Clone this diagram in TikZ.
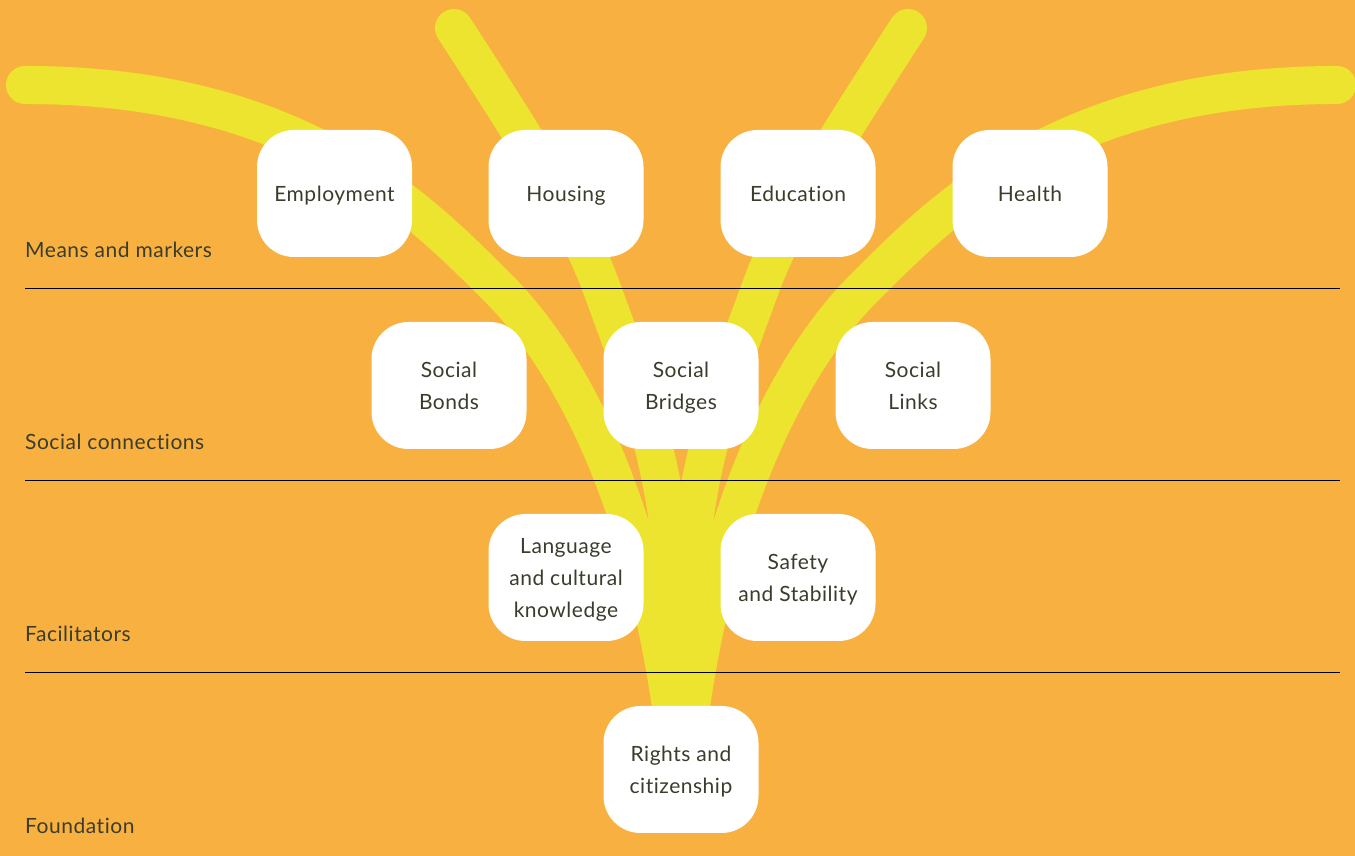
\documentclass[tikz,border=0pt]{standalone}
\usepackage{fontspec}
\setmainfont{Lato}[LetterSpace=2.5,Ligatures=NoCommon]
\pgfdeclarelayer{bglayer}
\pgfdeclarelayer{edgelayer}
\pgfdeclarelayer{nodelayer}
\pgfsetlayers{bglayer,edgelayer,nodelayer,main}
\definecolor{bgorange}{HTML}{F8B140}
\definecolor{stemyellow}{HTML}{ECE42E}
\definecolor{inkdark}{HTML}{3A3D2B}
\tikzset{font=\fontsize{21}{32}\selectfont}
\tikzstyle{none}=[inner sep=0pt]
\tikzstyle{box}=[rectangle,rounded corners=37pt,fill=white,minimum width=155pt,minimum height=127pt,inner sep=0pt,align=center,text=inkdark,text depth=0pt]
\tikzstyle{rowlabel}=[anchor=base west,inner sep=0pt,text=inkdark]
\tikzstyle{branch}=[draw=stemyellow,line width=38pt,line cap=round]
\tikzstyle{rule}=[draw=black,line width=1pt]

\begin{document}
\begin{tikzpicture}[x=1pt,y=1pt]
	\useasboundingbox (0,0) rectangle (1355,856);
	\begin{pgfonlayer}{bglayer}
		\fill [bgorange] (0,0) rectangle (1355,856);
	\end{pgfonlayer}
	\begin{pgfonlayer}{nodelayer}
		% means and markers
		\node [style=box] (0) at (334.5, 662.5) {Employment};
		\node [style=box] (1) at (566, 662.5) {Housing};
		\node [style=box] (2) at (798, 662.5) {Education};
		\node [style=box] (3) at (1030, 662.5) {Health};
		% social connections
		\node [style=box] (4) at (449, 470.5) {Social\\Bonds};
		\node [style=box] (5) at (681, 470.5) {Social\\Bridges};
		\node [style=box] (6) at (913, 470.5) {Social\\Links};
		% facilitators
		\node [style=box] (7) at (566, 278.5) {Language\\and cultural\\knowledge};
		\node [style=box] (8) at (798, 278.5) {Safety\\and Stability};
		% foundation
		\node [style=box] (9) at (681, 86.5) {Rights and\\citizenship};
		\node [style=rowlabel] (10) at (25, 598) {Means and markers};
		\node [style=rowlabel] (11) at (25, 406) {Social connections};
		\node [style=rowlabel] (12) at (25, 214) {Facilitators};
		\node [style=rowlabel] (13) at (25, 22) {Foundation};
	\end{pgfonlayer}
	\begin{pgfonlayer}{edgelayer}
		\node [style=none] (14) at (25, 771) {};
		\node [style=none] (15) at (454, 828) {};
		\node [style=none] (16) at (908, 828) {};
		\node [style=none] (17) at (1337, 771) {};
		\node [style=none] (18) at (673, 136) {};
		\node [style=none] (19) at (690, 116) {};
		\node [style=none] (20) at (672, 116) {};
		\node [style=none] (21) at (689, 136) {};
		\node [style=none] (22) at (25, 567) {};
		\node [style=none] (23) at (1340, 567) {};
		\node [style=none] (24) at (25, 375) {};
		\node [style=none] (25) at (1340, 375) {};
		\node [style=none] (26) at (25, 183) {};
		\node [style=none] (27) at (1340, 183) {};
		\draw [style=branch] (14.center) to [out=0, in=135, out distance=275pt, in distance=113pt] (499, 567) to [out=-45, in=97.8, out distance=86pt, in distance=242pt] (18.center);
		\draw [style=branch] (15.center) to [out=-57.1, in=110, out distance=121pt, in distance=79pt] (602, 567) to [out=-70, in=95.7, out distance=67pt, in distance=100pt] (670, 316) -- (19.center);
		\draw [style=branch] (16.center) to [out=-122.9, in=70, out distance=121pt, in distance=79pt] (760, 567) to [out=-110, in=84.3, out distance=67pt, in distance=100pt] (692, 316) -- (20.center);
		\draw [style=branch] (17.center) to [out=180, in=45, out distance=275pt, in distance=113pt] (863, 567) to [out=-135, in=82.2, out distance=86pt, in distance=242pt] (21.center);
		\draw [style=rule] (22.center) to (23.center);
		\draw [style=rule] (24.center) to (25.center);
		\draw [style=rule] (26.center) to (27.center);
	\end{pgfonlayer}
\end{tikzpicture}
\end{document}
